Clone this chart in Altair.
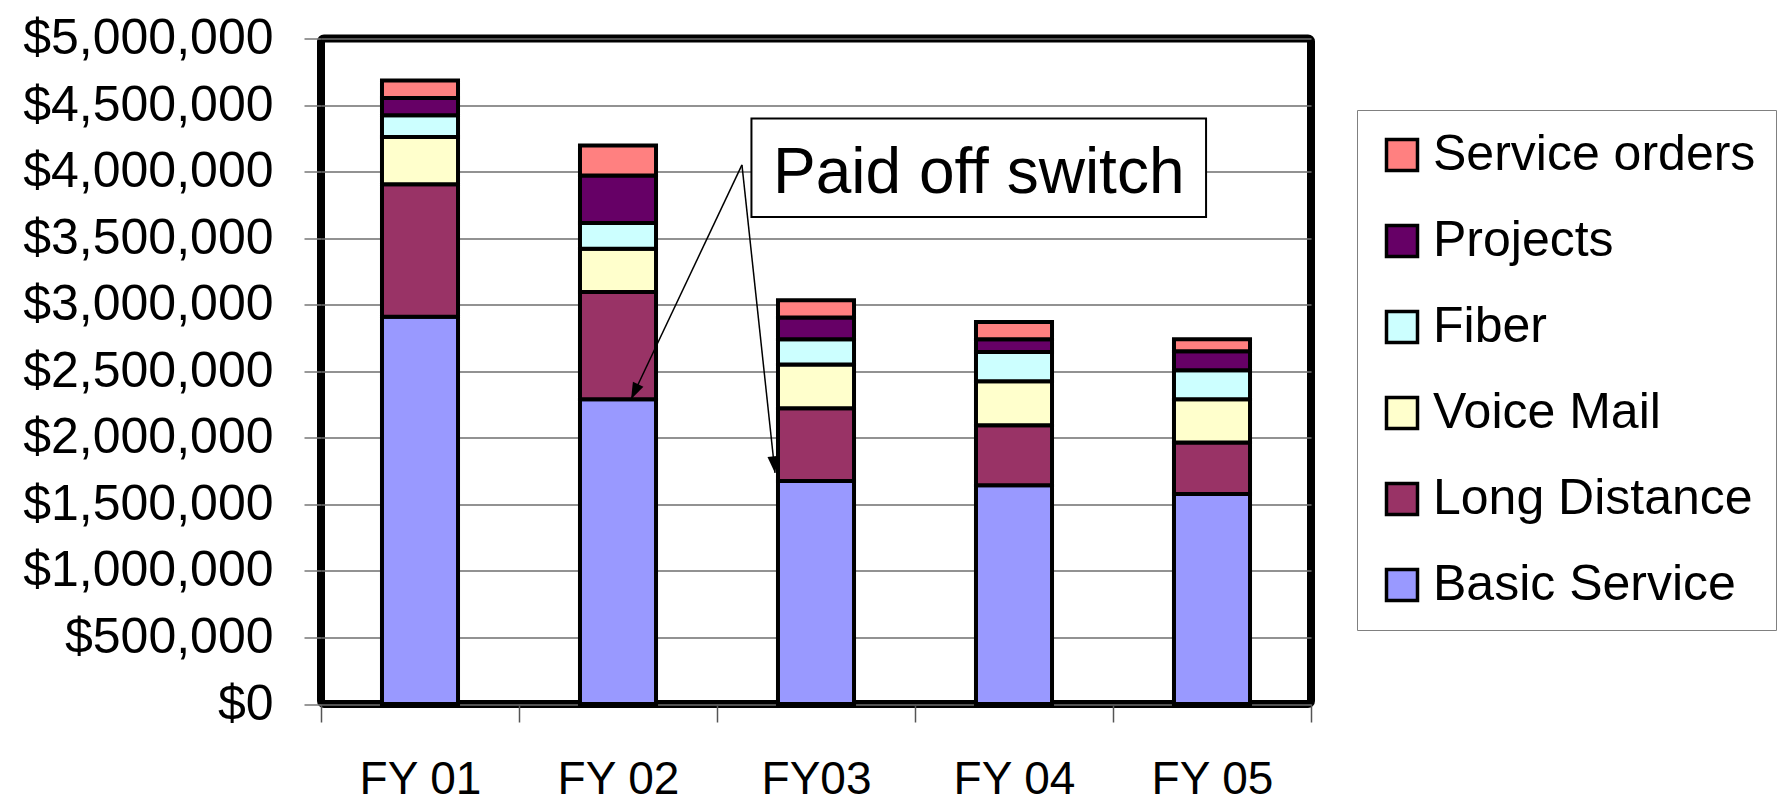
import math
import altair as alt
import pandas as pd

# ---------------- data ----------------
years = ["FY 01", "FY 02", "FY03", "FY 04", "FY 05"]
series = ["Service orders", "Projects", "Fiber", "Voice Mail", "Long Distance", "Basic Service"]
colors = ["#FF8080", "#660066", "#CCFFFF", "#FFFFCC", "#993366", "#9999FF"]

basic_service = [2910000, 2290000, 1676000, 1644000, 1577000]
long_distance = [995000, 805000, 546000, 451000, 388000]
voice_mail = [355000, 326000, 328000, 330000, 325000]
fiber = [163000, 192000, 190000, 220000, 218000]
projects = [130000, 358000, 163000, 95000, 142000]
service_orders = [132000, 226000, 130000, 130000, 90000]

y_ticks = [0, 500000, 1000000, 1500000, 2000000, 2500000, 3000000,
           3500000, 4000000, 4500000, 5000000]

# annotation (x in category-slot units 0..5, y in dollars)
note_text = ["Paid off switch"]
note_box_x = [2.174, 4.470]
note_box_y = [3659000, 4399000]
note_text_y = [3979000]
arrow_from_x = [2.126, 2.126]
arrow_from_y = [4050000, 4050000]
arrow_to_x = [1.566, 2.293]
arrow_to_y = [2290000, 1736000]

# ---------------- layout constants ----------------
W, H = 990, 665.5
YMAX = 5000000
FONT = "Liberation Sans"

values_by_series = {
    "Basic Service": basic_service,
    "Long Distance": long_distance,
    "Voice Mail": voice_mail,
    "Fiber": fiber,
    "Projects": projects,
    "Service orders": service_orders,
}
stack_rank = ["Basic Service", "Long Distance", "Voice Mail", "Fiber", "Projects", "Service orders"]

rows = []
for s, vals in values_by_series.items():
    for yr, v in zip(years, vals):
        rows.append({"year": yr, "series": s, "value": v, "ord": stack_rank.index(s)})
df = pd.DataFrame(rows)

# arrow data, with arrowhead rotation derived from the scale mapping
px_x = W / 5.0
px_y = H / YMAX
arrows = []
for fx, fy, tx, ty in zip(arrow_from_x, arrow_from_y, arrow_to_x, arrow_to_y):
    dx = (tx - fx) * px_x
    dy = -(ty - fy) * px_y
    ang = math.degrees(math.atan2(dx, -dy)) % 360
    arrows.append({"x0": fx, "y0": fy, "x1": tx, "y1": ty, "ang": ang})
arrow_df = pd.DataFrame(arrows)

box_df = pd.DataFrame({"x0": [note_box_x[0]], "x1": [note_box_x[1]],
                       "y0": [note_box_y[0]], "y1": [note_box_y[1]]})
text_df = pd.DataFrame({"xc": [(note_box_x[0] + note_box_x[1]) / 2],
                        "yc": note_text_y, "t": note_text})

# ---------------- chart ----------------
x_axis = alt.Axis(title=None, labelAngle=0, tickBand="extent", ticks=True, tickSize=18,
                  tickColor="#555555", tickWidth=1.5, domain=False, grid=False,
                  labelFont=FONT, labelFontSize=46, labelColor="black", labelPadding=35,
                  labelLimit=0)
y_axis = alt.Axis(title=None, values=y_ticks, format="$,.0f", labelFont=FONT,
                  labelFontSize=50, labelColor="black", tickSize=17, tickColor="#777777",
                  tickWidth=1.5, labelPadding=31, domain=False, grid=True,
                  gridColor="#6e6e6e", gridWidth=1.5, labelOffset=0, labelLimit=0)

legend = alt.Legend(title=None, orient="none", legendX=1036, legendY=71.5,
                    symbolType="square", symbolSize=961, symbolStrokeWidth=3.5,
                    symbolStrokeColor="black", symbolOpacity=1,
                    labelFont=FONT, labelFontSize=50, labelColor="black",
                    labelOffset=6, rowPadding=36, padding=20, labelLimit=0,
                    strokeColor="#808080", fillColor="white")

bars = alt.Chart(df).mark_bar(stroke="black", strokeWidth=4,
                              width=alt.RelativeBandSize(0.384)).encode(
    x=alt.X("year:N", sort=years,
            scale=alt.Scale(paddingInner=0, paddingOuter=0), axis=x_axis),
    y=alt.Y("value:Q", stack="zero",
            scale=alt.Scale(domain=[0, YMAX], nice=False), axis=y_axis),
    color=alt.Color("series:N", sort=series,
                    scale=alt.Scale(domain=series, range=colors), legend=legend),
    order=alt.Order("ord:Q", sort="ascending"),
)

xq = alt.Scale(domain=[0, 5], nice=False, zero=False)
yq = alt.Scale(domain=[0, YMAX], nice=False)

lines = alt.Chart(arrow_df).mark_rule(color="black", strokeWidth=1.5).encode(
    x=alt.X("x0:Q", scale=xq, axis=None),
    y=alt.Y("y0:Q", scale=yq, axis=None),
    x2="x1:Q",
    y2="y1:Q",
)

ARROW = "M0,0L-0.35,1L0.35,1Z"
heads = alt.Chart(arrow_df).mark_point(shape=ARROW, filled=True, color="black",
                                       size=1100, opacity=1).encode(
    x=alt.X("x1:Q", scale=xq, axis=None),
    y=alt.Y("y1:Q", scale=yq, axis=None),
    angle=alt.Angle("ang:Q", scale=None),
)

box = alt.Chart(box_df).mark_rect(fill="white", stroke="black", strokeWidth=2).encode(
    x=alt.X("x0:Q", scale=xq, axis=None),
    x2="x1:Q",
    y=alt.Y("y0:Q", scale=yq, axis=None),
    y2="y1:Q",
)

label = alt.Chart(text_df).mark_text(font=FONT, fontSize=64, align="center",
                                     baseline="middle", color="black").encode(
    x=alt.X("xc:Q", scale=xq, axis=None),
    y=alt.Y("yc:Q", scale=yq, axis=None),
    text="t:N",
)

annot = alt.layer(lines, heads, box, label)

chart = alt.layer(bars, annot).resolve_scale(
    x="independent", y="independent", color="independent"
).properties(
    width=W, height=H,
    autosize=alt.AutoSizeParams(type="none"),
    padding={"left": 313, "top": 30.5, "right": 468, "bottom": 100},
).configure(
    background="white"
).configure_view(
    stroke="black", strokeWidth=8, cornerRadius=3
)

chart.save("out.html", embed_options={"renderer": "svg", "actions": False})
